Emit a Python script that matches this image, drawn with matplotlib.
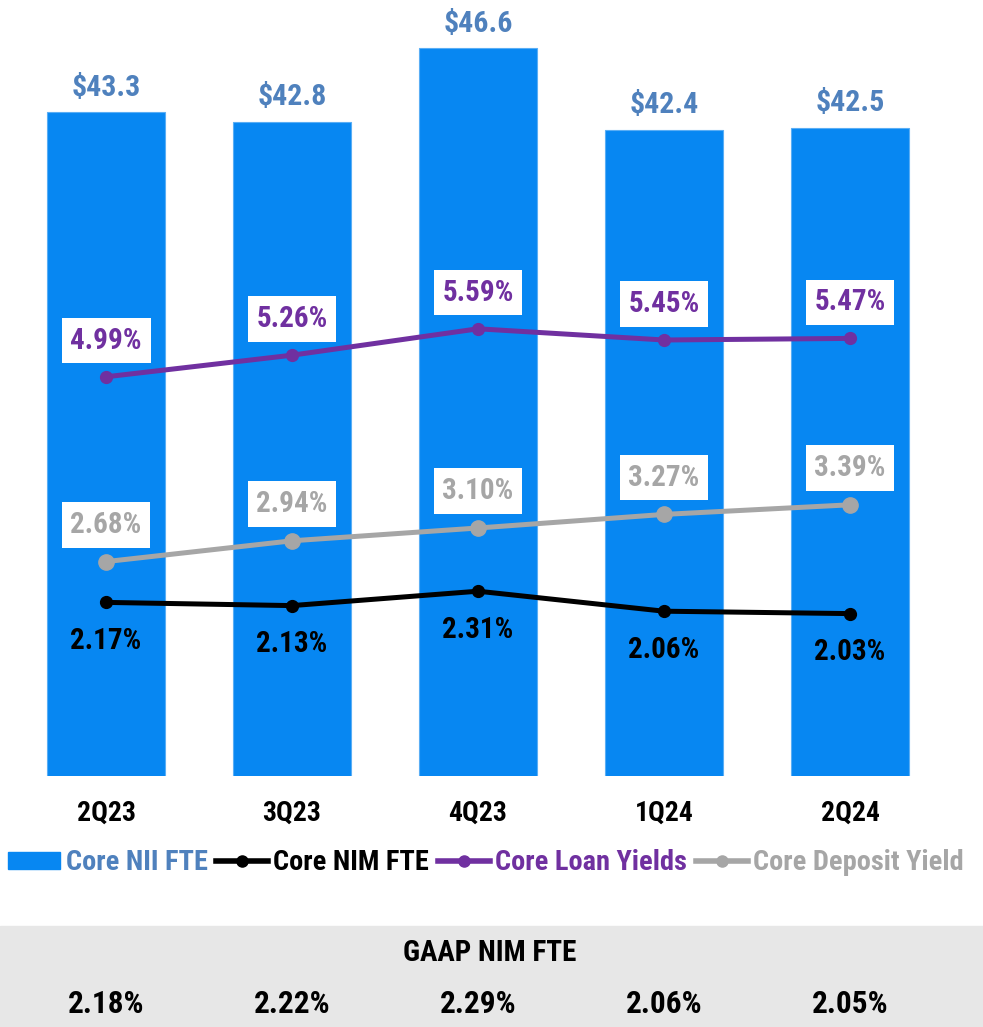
import matplotlib
matplotlib.use("Agg")
import matplotlib.pyplot as plt
from matplotlib import font_manager as fm
from matplotlib.font_manager import FontProperties
from matplotlib.lines import Line2D
from matplotlib.patches import Patch, Rectangle
import matplotlib.transforms as mtransforms

quarters = ["2Q23", "3Q23", "4Q23", "1Q24", "2Q24"]
core_nii = [43.3, 42.8, 46.6, 42.4, 42.5]
core_nim = [2.17, 2.13, 2.31, 2.06, 2.03]
loan_yield = [4.99, 5.26, 5.59, 5.45, 5.47]
deposit_yield = [2.68, 2.94, 3.10, 3.27, 3.39]
gaap_nim = [2.18, 2.22, 2.29, 2.06, 2.05]


def pick_font():
    prefs = ["Liberation Sans Narrow", "Arial Narrow", "Roboto Condensed",
             "Open Sans Condensed", "Noto Sans Condensed", "DejaVu Sans Condensed"]
    best = None
    for f in fm.fontManager.ttflist:
        nm = f.name
        stretch = str(f.stretch).lower()
        fname = f.fname.lower()
        cond = ("narrow" in nm.lower() or "condensed" in nm.lower()
                or "condensed" in stretch or "narrow" in fname or "condensed" in fname)
        if not cond:
            continue
        if "semi" in stretch or "semicondensed" in fname or "semi" in nm.lower():
            continue
        w = f.weight if isinstance(f.weight, int) else (700 if "bold" in str(f.weight) else 400)
        if w < 600 or "italic" in str(f.style) or "oblique" in str(f.style):
            continue
        if "black" in fname or "extra" in fname:
            continue
        rank = len(prefs)
        for i, p in enumerate(prefs):
            if p.lower() in nm.lower() or p.replace(" ", "").lower() in fname.replace("-", ""):
                rank = i
                break
        if "dejavu" in fname:
            rank = min(rank, len(prefs) - 1)
        if best is None or rank < best[0]:
            best = (rank, f.fname, nm)
    return best


choice = pick_font()
if choice is not None:
    FONT_FILE = choice[1]
else:
    FONT_FILE = fm.findfont(FontProperties(family="Liberation Sans", weight="bold"))


def fp(size):
    return FontProperties(fname=FONT_FILE, size=size)


BAR = "#0787F2"
STEEL = "#4F81BD"
PURPLE = "#7030A0"
GRAY = "#A6A6A6"
BLACK = "#000000"

W, H = 983, 1027
fig = plt.figure(figsize=(W / 100, H / 100), dpi=100)

left, right = 13 / W, 943 / W
bottom, top = 1 - 776 / H, 1 - 10 / H
ax = fig.add_axes([left, bottom, right - left, top - bottom])
x = list(range(len(quarters)))
ax.bar(x, core_nii, width=0.63, color=BAR, edgecolor="#5AAEF5", linewidth=0.8, zorder=1)
ax.set_xlim(-0.5, 4.5)
k = 19.39
base = 9.06
ax.set_ylim(base, base + 766 / k)
for s in ax.spines.values():
    s.set_visible(False)
ax.set_yticks([])
ax.set_xticks(x)
ax.set_xticklabels(quarters, fontproperties=fp(20), color="black")
ax.tick_params(axis="x", length=0, pad=17)
for xi, v in zip(x, core_nii):
    ax.annotate(f"${v:.1f}", (xi, v), xytext=(0, 17.5), textcoords="offset points",
                ha="center", va="center", fontproperties=fp(21.5), color=STEEL)

ax2 = ax.twinx()
ax2.set_ylim(0, 766 / 80)
ax2.set_yticks([])
for s in ax2.spines.values():
    s.set_visible(False)
ax2.plot(x, core_nim, color=BLACK, lw=3.6, marker="o", ms=8.5, zorder=3)
ax2.plot(x, loan_yield, color=PURPLE, lw=3.6, marker="o", ms=8.5, zorder=3)
ax2.plot(x, deposit_yield, color=GRAY, lw=3.6, marker="o", ms=11, zorder=3)

box = dict(boxstyle="square,pad=0.3", fc="white", ec="none")
for xi, v in zip(x, loan_yield):
    ax2.annotate(f"{v:.2f}%", (xi, v), xytext=(0, 26), textcoords="offset points",
                 ha="center", va="center", fontproperties=fp(21), color=PURPLE, bbox=box)
for xi, v in zip(x, deposit_yield):
    ax2.annotate(f"{v:.2f}%", (xi, v), xytext=(0, 26.5), textcoords="offset points",
                 ha="center", va="center", fontproperties=fp(21), color=GRAY, bbox=box)
for xi, v in zip(x, core_nim):
    ax2.annotate(f"{v:.2f}%", (xi, v), xytext=(0, -28), textcoords="offset points",
                 ha="center", va="center", fontproperties=fp(21), color=BLACK)

handles = [
    Patch(color=BAR),
    Line2D([], [], color=BLACK, lw=4, marker="o", ms=8),
    Line2D([], [], color=PURPLE, lw=4, marker="o", ms=8),
    Line2D([], [], color=GRAY, lw=4, marker="o", ms=8),
]
labels = ["Core NII FTE", "Core NIM FTE", "Core Loan Yields", "Core Deposit Yield"]
leg = fig.legend(handles, labels, loc="center left", bbox_to_anchor=(8 / W, 1 - 863 / H),
                 ncol=4, frameon=False, handlelength=1.85, handletextpad=0.18,
                 columnspacing=0.3, borderaxespad=0, borderpad=0, handleheight=0.5,
                 labelcolor=[STEEL, BLACK, PURPLE, GRAY], prop=fp(20.4))

fig.patches.append(Rectangle((0, 0), 1, 1 - 926 / H, transform=fig.transFigure,
                             color="#E7E7E7", zorder=0))
fig.text(0.498, 1 - 953 / H, "GAAP NIM FTE", ha="center", va="center",
         fontproperties=fp(21), color="black")
trans = mtransforms.blended_transform_factory(ax.transData, fig.transFigure)
for xi, v in zip(x, gaap_nim):
    fig.text(xi, 1 - 1004 / H, f"{v:.2f}%", transform=trans, ha="center", va="center",
             fontproperties=fp(22.5), color="black")

fig.savefig("out.png", dpi=100)
